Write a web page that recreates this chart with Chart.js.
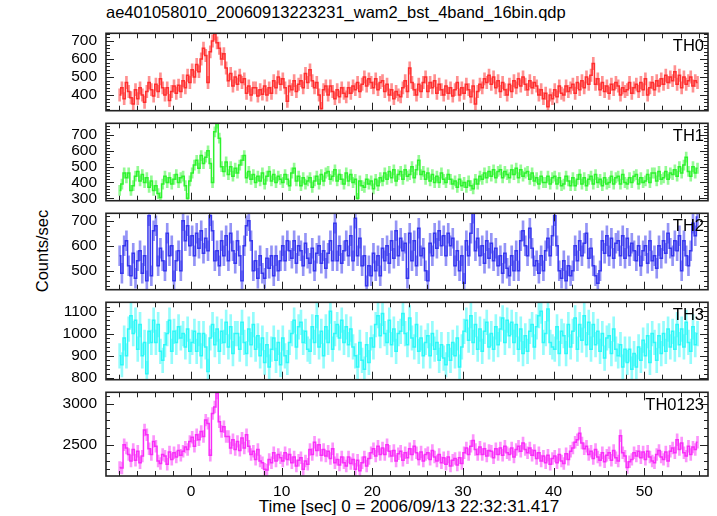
<!DOCTYPE html>
<html><head><meta charset="utf-8">
<script src="https://cdn.jsdelivr.net/npm/chart.js@4/dist/chart.umd.min.js"></script>
<style>
html,body{margin:0;padding:0;background:#fff;}
#wrap{position:relative;width:717px;height:516px;overflow:hidden;font-family:"Liberation Sans",Arial,sans-serif;background:#fff;}
#wrap canvas{position:absolute;left:0;}
.txt{position:absolute;white-space:nowrap;color:#000;line-height:1;}
</style></head><body><div id="wrap">
<div class="txt" style="left:106px;top:4px;font-size:16.5px;">ae401058010_20060913223231_wam2_bst_4band_16bin.qdp</div>
<div class="txt" style="left:409px;top:506px;font-size:17px;transform:translate(-50%,-50%);">Time [sec] 0 = 2006/09/13 22:32:31.417</div>
<div class="txt" style="left:42px;top:251px;font-size:16.5px;transform:translate(-50%,-50%) rotate(-90deg);">Counts/sec</div>
</div>
<script>
// ---- data (0.25 s bins starting at -8 s) ----
const binStart = -8;
const binWidth = 0.25;
const bandNames = ['TH0','TH1','TH2','TH3','TH0123'];
const th0 = [
400,440,380,470, 420,385,350,430, 380,440,400,360, 420,470,430,395,
460,420,490,440, 400,440,370,420, 450,410,455,420, 480,440,510,470,
540,500,570,530, 600,660,620,470, 640,700,740,690, 660,600,630,550,
480,520,450,500, 460,510,470,490, 410,450,400,440, 440,395,430,405,
450,400,440,410, 480,440,500,460, 490,440,365,450, 430,480,420,460,
480,440,520,470, 540,480,440,470, 400,325,430,450, 400,450,420,380,
430,390,440,410, 390,440,410,450, 430,470,420,460, 500,450,490,470,
440,490,430,470, 480,420,460,400, 430,380,420,400, 390,440,480,420,
550,470,430,400, 460,420,470,500, 420,470,440,480, 410,460,430,400,
450,410,440,395, 430,470,400,440, 410,460,430,390, 450,350,420,460,
440,490,470,510, 460,500,440,480, 420,470,430,400, 460,420,480,440,
490,450,500,460, 430,480,440,470, 450,400,430,380, 410,335,400,380,
430,390,450,410, 400,450,420,440, 460,410,470,430, 480,440,500,460,
510,575,460,490, 430,470,420,450, 410,460,430,470, 450,400,440,420,
430,470,410,440, 460,420,470,430, 490,400,440,470, 430,480,450,490,
460,510,470,500, 480,530,460,510, 440,500,460,480, 500,450,480,470];
const th1 = [
350,390,460,430, 460,350,380,440, 470,410,450,400, 430,370,410,350,
380,330,305,390, 440,400,430,390, 420,450,400,430, 440,380,300,410,
460,510,540,490, 570,520,560,600, 520,400,720,775, 680,500,470,530,
450,500,440,490, 460,510,540,570, 430,470,420,450, 400,440,410,460,
390,440,470,410, 450,400,440,420, 400,450,420,380, 460,490,410,440,
380,430,390,410, 430,370,410,440, 390,450,410,460, 470,420,440,480,
410,450,420,390, 460,410,450,400, 420,300,410,380, 370,420,390,410,
360,420,380,430, 410,460,420,470, 430,480,410,450, 470,420,480,440,
450,500,430,480, 540,450,470,420, 460,410,450,400, 440,400,460,420,
400,450,420,390, 410,370,420,380, 400,370,410,380, 360,420,390,440,
420,460,430,470, 440,480,430,470, 480,430,470,450, 430,480,450,490,
430,480,440,460, 470,420,460,410, 430,390,440,400, 400,440,390,430,
440,390,430,380, 390,440,410,380, 430,380,420,450, 390,430,380,420,
440,390,450,400, 420,380,430,390, 400,440,390,430, 440,390,450,400,
390,430,400,440, 450,390,430,400, 410,450,400,460, 460,410,470,420,
430,470,420,460, 450,480,440,500, 460,510,560,470, 440,500,460,490];
const th2 = [
560,490,600,620, 520,480,570,470, 540,580,490,560, 460,720,480,660,
680,520,590,540, 500,650,560,600, 460,540,580,500, 700,620,680,600,
640,560,650,590, 660,570,630,580, 720,660,540,580, 520,620,560,640,
540,650,580,530, 620,560,460,600, 680,700,620,500, 540,470,560,490,
470,550,510,560, 480,560,500,540, 600,540,620,580, 550,620,530,600,
580,520,610,550, 530,590,500,570, 600,530,580,510, 570,620,540,690,
540,600,530,580, 620,560,640,540, 710,560,630,520, 560,440,520,480,
570,500,560,480, 590,540,600,530, 620,550,660,560, 630,580,610,470,
650,540,620,520, 670,560,590,500, 460,610,560,650, 590,660,600,640,
560,650,600,630, 520,580,500,560, 450,620,560,650, 730,580,630,560,
600,530,620,550, 610,540,590,520, 560,490,570,510, 480,560,500,580,
500,620,660,600, 560,670,590,520, 540,490,560,500, 580,630,560,640,
720,600,500,470, 540,460,520,480, 500,600,540,620, 560,610,650,550,
590,520,480,450, 500,620,570,640, 560,630,550,610, 620,560,640,550,
630,560,610,580, 540,600,520,580, 600,530,620,540, 560,510,600,550,
620,570,650,590, 560,620,580,640, 500,620,560,520, 580,690,640,715];
const th3 = [
900,860,980,900, 1020,1080,1000,1060, 930,1040,900,960, 820,1010,960,1060,
960,1040,920,880, 950,1000,1060,920, 1010,960,1030,980, 1000,940,1020,920,
960,1010,920,1000, 900,1000,940,830, 980,1040,950,1020, 920,1010,960,1050,
940,1030,910,1000, 1000,930,1050,960, 910,1020,950,1040, 930,990,900,980,
870,950,850,930, 980,880,960,860, 980,900,870,960, 1000,1060,940,1030,
1050,960,1010,930, 920,1030,960,1080, 940,1010,900,1030, 960,1100,930,1000,
1040,980,1060,960, 1030,950,1020,940, 900,850,960,880, 840,950,870,980,
940,1040,1080,990, 1090,1000,960,1060, 950,1020,920,1000, 1010,1090,1000,950,
1070,980,940,1040, 920,980,900,960, 990,900,1000,930, 960,880,950,890,
860,950,880,960, 900,980,850,940, 1010,1060,970,1080, 960,1040,930,1020,
920,1010,1050,940, 1000,930,1030,950, 1020,1070,960,1060, 990,1050,960,1040,
930,1020,910,990, 920,1010,1040,940, 1030,1080,1100,960, 1000,1110,960,940,
930,1030,910,1010, 990,910,1040,940, 1010,1070,930,1040, 970,1080,950,1050,
930,1040,950,1010, 920,1000,890,980, 990,910,1020,930, 900,950,850,930,
870,930,840,910, 850,940,880,970, 900,990,870,1000, 960,880,990,910,
1000,920,1020,940, 1010,930,1040,950, 1020,940,1050,960, 920,1030,950,1000];
const th0123 = [
2220,2215,2500,2460, 2380,2300,2440,2310, 2420,2280,2360,2680, 2620,2450,2380,2540,
2480,2300,2270,2380, 2360,2260,2410,2320, 2400,2350,2430,2370, 2420,2470,2440,2540,
2590,2480,2620,2560, 2660,2600,2800,2760, 2370,2880,2960,3130, 2780,2660,2720,2600,
2600,2460,2560,2440, 2540,2430,2580,2460, 2620,2480,2380,2420, 2320,2440,2300,2280,
2200,2190,2320,2280, 2400,2300,2380,2340, 2300,2400,2320,2380, 2280,2350,2240,2310,
2340,2200,2300,2260, 2440,2380,2530,2430, 2500,2370,2440,2360, 2420,2330,2450,2280,
2320,2250,2350,2280, 2240,2350,2270,2320, 2200,2310,2180,2280, 2350,2240,2330,2400,
2450,2360,2480,2380, 2460,2380,2500,2420, 2360,2430,2300,2390, 2420,2310,2400,2340,
2450,2380,2480,2400, 2320,2410,2300,2380, 2400,2320,2430,2350, 2300,2380,2280,2340,
2260,2350,2240,2310, 2330,2250,2340,2270, 2400,2460,2380,2480, 2550,2440,2380,2470,
2380,2450,2360,2430, 2420,2340,2450,2380, 2460,2370,2480,2400, 2380,2460,2350,2440,
2480,2420,2520,2440, 2400,2460,2370,2430, 2330,2400,2300,2360, 2280,2370,2260,2330,
2360,2280,2380,2300, 2270,2390,2320,2420, 2460,2530,2560,2640, 2520,2450,2480,2380,
2420,2330,2440,2350, 2310,2400,2290,2370, 2400,2310,2430,2340, 2300,2610,2400,2360,
2220,2290,2320,2400, 2360,2420,2340,2410, 2320,2420,2350,2300, 2280,2380,2430,2350,
2320,2410,2300,2420, 2460,2400,2560,2440, 2520,2400,2360,2480, 2380,2470,2440,2530];
const series = [th0, th1, th2, th3, th0123];
const errHalf = [34, 32, 40, 55, 72];
const yMinVals = [313, 285, 424, 793, 2117];
const yMaxVals = [743, 774, 730, 1140, 3140];
const yTickLabels = [
  [400,500,600,700],
  [300,400,500,600,700],
  [500,600,700],
  [800,900,1000,1100],
  [2500,3000]];
const yMinorStep = [20,20,20,20,100];
const yMajorStep = [100,100,100,100,500];
const xTickLabels = [0,10,20,30,40,50];
const xMin = -9.38, xMax = 57.03;

// ---- styling ----
const lineColors = ['#ff2e2e','#2ef22e','#3636ee','#2ef8f8','#f82ef8'];
const errColors  = ['#ff9090','#94fa94','#9494f6','#94fcfc','#fc94fc'];
const panelTop = [27,117,207,296,386];
const panelBot = [117,207,296,386,476];
const PAD = 12, XAX = 30;
const FONT = '"Liberation Sans", Arial, sans-serif';

const framePlugin = {
  id: 'frame',
  afterDatasetsDraw(chart, args, opts) {
    const {ctx, chartArea: a} = chart;
    const x = chart.scales.x, y = chart.scales.y;
    const p = opts.panel;
    ctx.save();
    ctx.strokeStyle = '#222';
    ctx.lineWidth = 1;
    ctx.beginPath();
    for (let t = -8; t <= 56; t += 2) {
      const px = Math.round(x.getPixelForValue(t)) + 0.5;
      const L = (t % 10 === 0) ? 8 : 5;
      ctx.moveTo(px, a.top); ctx.lineTo(px, a.top + L);
      ctx.moveTo(px, a.bottom); ctx.lineTo(px, a.bottom - L);
    }
    const ms = yMinorStep[p], Ms = yMajorStep[p];
    for (let v = Math.ceil(y.min / ms) * ms; v <= y.max; v += ms) {
      const py = Math.round(y.getPixelForValue(v)) + 0.5;
      const L = (v % Ms === 0) ? 8 : 4;
      ctx.moveTo(a.left, py); ctx.lineTo(a.left + L, py);
      ctx.moveTo(a.right, py); ctx.lineTo(a.right - L, py);
    }
    ctx.stroke();
    ctx.lineWidth = 1.6;
    ctx.strokeRect(a.left, a.top, a.right - a.left, a.bottom - a.top);
    ctx.fillStyle = '#000';
    ctx.font = '16.5px ' + FONT;
    ctx.textAlign = 'right';
    ctx.textBaseline = 'middle';
    ctx.fillText(bandNames[p], a.right - 4, a.top + 13);
    ctx.restore();
  }
};

const wrap = document.getElementById('wrap');
for (let p = 0; p < 5; p++) {
  const last = p === 4;
  const h = panelBot[p] - panelTop[p];
  const ch = h + PAD + (last ? XAX : PAD);
  const cv = document.createElement('canvas');
  cv.width = 717; cv.height = ch;
  cv.style.width = '717px'; cv.style.height = ch + 'px';
  cv.style.top = (panelTop[p] - PAD) + 'px';
  wrap.appendChild(cv);
  const vals = series[p];
  const centers = vals.map((v, i) => binStart + binWidth * (i + 0.5));
  const lineData = vals.map((v, i) => ({x: centers[i], y: v}));
  const errData = vals.map((v, i) => ({x: centers[i], y: [v - errHalf[p], v + errHalf[p]]}));
  new Chart(cv, {
    type: 'bar',
    data: {datasets: [
      {type: 'line', data: lineData, borderColor: lineColors[p], borderWidth: 1.5,
       stepped: 'middle', pointRadius: 0, order: 0, fill: false},
      {type: 'bar', data: errData, backgroundColor: errColors[p], barThickness: 2,
       grouped: false, order: 1, borderWidth: 0}
    ]},
    options: {
      responsive: false, animation: false, devicePixelRatio: 1,
      layout: {padding: {top: PAD, bottom: last ? 0 : PAD, left: 0, right: 9}},
      plugins: {legend: {display: false}, tooltip: {enabled: false}, frame: {panel: p}},
      scales: {
        x: {type: 'linear', min: xMin, max: xMax, offset: false, display: last,
            grid: {display: false, drawTicks: false, offset: false}, border: {display: false},
            ticks: {font: {size: 15.5, family: FONT}, color: '#000', padding: 6, maxRotation: 0,
                    callback: v => String(v)},
            afterBuildTicks: s => { s.ticks = xTickLabels.map(v => ({value: v})); },
            afterFit: s => { s.height = last ? XAX : 0; }},
        y: {type: 'linear', min: yMinVals[p], max: yMaxVals[p],
            grid: {display: false, drawTicks: false}, border: {display: false},
            ticks: {font: {size: 15.5, family: FONT}, color: '#000', padding: 9,
                    callback: v => String(v)},
            afterBuildTicks: s => { s.ticks = yTickLabels[p].map(v => ({value: v})); },
            afterFit: s => { s.width = 106; }}
      }
    },
    plugins: [framePlugin]
  });
}
</script></body></html>
